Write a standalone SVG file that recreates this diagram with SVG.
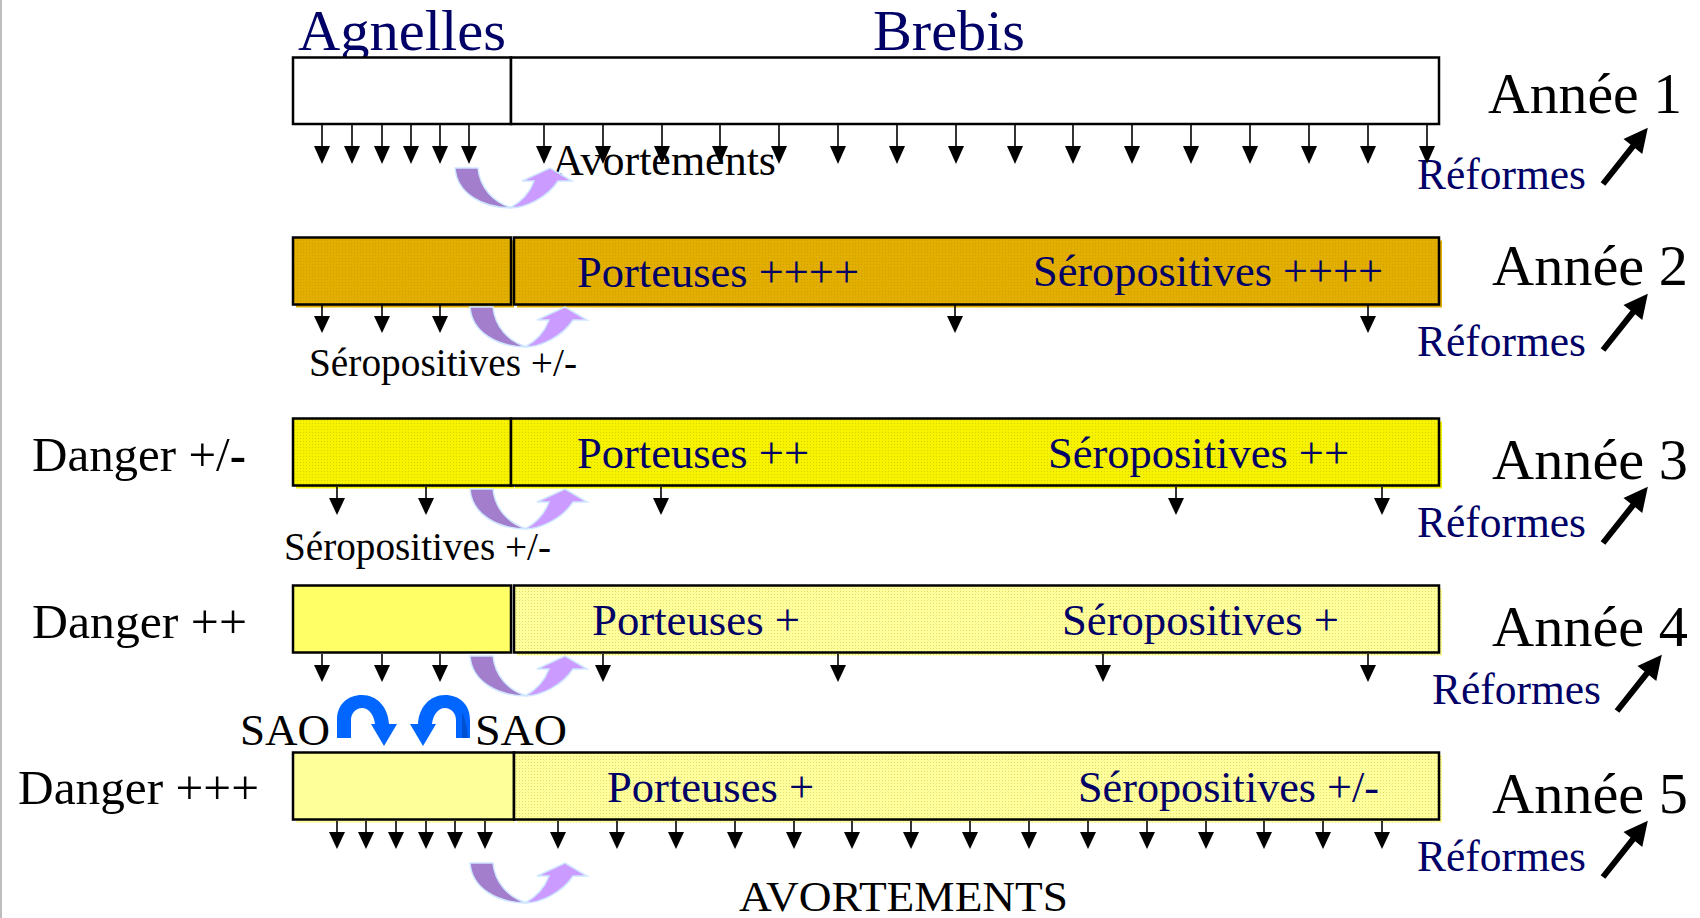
<svg xmlns="http://www.w3.org/2000/svg" xmlns:xlink="http://www.w3.org/1999/xlink" width="1700" height="918" viewBox="0 0 1700 918">
<style>
  text { font-family: "Liberation Serif", "Times New Roman", serif; }
  .navy { fill: #000066; }
  .blk { fill: #000000; }
  .box { stroke: #000; stroke-width: 2.5; }
  .dl { stroke: #000; stroke-width: 1.6; }
  .purpleD { fill: #A27ECC; stroke: #CFE6FF; stroke-width: 1.5; }
  .purpleL { fill: #CC9BFF; stroke: #CFE6FF; stroke-width: 1.5; }
  .blue { fill: #0066FF; }
</style>
<defs>
  <pattern id="pGold" width="3" height="3" patternUnits="userSpaceOnUse">
    <rect width="3" height="3" fill="#E2AE00"/>
    <rect width="1" height="1" fill="#CFA000"/>
  </pattern>
  <pattern id="pYel" width="3" height="3" patternUnits="userSpaceOnUse">
    <rect width="3" height="3" fill="#F6F200"/>
    <rect width="1" height="1" fill="#DAD400"/>
  </pattern>
  <pattern id="pPale" width="3" height="3" patternUnits="userSpaceOnUse">
    <rect width="3" height="3" fill="#FFFF9C"/>
    <rect width="1" height="1" fill="#E2DC70"/>
  </pattern>
  <g id="dn1">
    <line class="dl" x1="0" y1="1" x2="0" y2="23"/>
    <path d="M-8,22 L8,22 L0,40 Z" fill="#000"/>
  </g>
  <g id="dn">
    <line class="dl" x1="0" y1="1" x2="0" y2="13"/>
    <path d="M-8,12 L8,12 L0,29 Z" fill="#000"/>
  </g>
  <g id="diag">
    <path d="M0,-3 L48,-3 L48,-12 L72,0 L48,12 L48,3 L0,3 Z" fill="#000"/>
  </g>
  <g id="uturn">
    <path class="purpleD" d="M0,0 L23,0 C25,20 38,34 57,40 C28,40 2,26 0,0 Z"/>
    <path class="purpleL" d="M55,40 C70,40 92,30 103,13 L117,13 L95,0 L67,13 L79,13 C75,24 66,34 55,40 Z"/>
  </g>
  <path id="sao" d="M337,738 L337,720 C337,704 348,695 362,695 C377,695 388,707 389,724 L397,724 L384,746 L371,724 L375,724 C374,715 369,708 362,708 C356,708 351,713 351,720 L351,738 Z"/>
</defs>

<rect x="0" y="0" width="1700" height="918" fill="#FFFFFF"/>
<line x1="1" y1="0" x2="1" y2="918" stroke="#BDBDBD" stroke-width="2"/>

<!-- Headers -->
<g id="headers">
  <text class="navy" x="298" y="50" font-size="58" textLength="208" lengthAdjust="spacingAndGlyphs">Agnelles</text>
  <text class="navy" x="873" y="50" font-size="58" textLength="152" lengthAdjust="spacingAndGlyphs">Brebis</text>
</g>

<!-- Year 1 -->
<g id="year1">
  <rect class="box" x="293" y="57.5" width="218" height="66.5" fill="#FFFFFF" stroke-width="2"/>
  <rect class="box" x="511" y="57.5" width="928" height="66.5" fill="#FFFFFF" stroke-width="2"/>
  <text class="blk" x="1488" y="113" font-size="58" textLength="194" lengthAdjust="spacingAndGlyphs">Année 1</text>
  <text class="navy" x="1417" y="189" font-size="44" textLength="169" lengthAdjust="spacingAndGlyphs">Réformes</text>
  <text class="blk" x="552" y="175" font-size="44" textLength="224" lengthAdjust="spacingAndGlyphs">Avortements</text>
</g>

<!-- Year 2 -->
<g id="year2">
  <rect x="296" y="240.5" width="218" height="67" fill="url(#pGold)"/>
  <rect x="517" y="240.5" width="925" height="67" fill="url(#pGold)"/>
  <rect class="box" x="293" y="237.5" width="218" height="67" fill="url(#pGold)"/>
  <rect class="box" x="514" y="237.5" width="925" height="67" fill="url(#pGold)"/>
  <text class="navy" x="577" y="287" font-size="44" textLength="282" lengthAdjust="spacingAndGlyphs">Porteuses ++++</text>
  <text class="navy" x="1033" y="286" font-size="44" textLength="350" lengthAdjust="spacingAndGlyphs">Séropositives ++++</text>
  <text class="blk" x="1492" y="285" font-size="58" textLength="196" lengthAdjust="spacingAndGlyphs">Année 2</text>
  <text class="navy" x="1417" y="356" font-size="44" textLength="169" lengthAdjust="spacingAndGlyphs">Réformes</text>
  <text class="blk" x="309" y="376" font-size="39" textLength="268" lengthAdjust="spacingAndGlyphs">Séropositives +/-</text>
</g>

<!-- Year 3 -->
<g id="year3">
  <rect x="296" y="421.5" width="218" height="67" fill="url(#pYel)"/>
  <rect x="515" y="421.5" width="927" height="67" fill="url(#pYel)"/>
  <rect class="box" x="293" y="418.5" width="218" height="67" fill="url(#pYel)"/>
  <rect class="box" x="511" y="418.5" width="928" height="67" fill="url(#pYel)"/>
  <text class="navy" x="577" y="468" font-size="44" textLength="232" lengthAdjust="spacingAndGlyphs">Porteuses ++</text>
  <text class="navy" x="1048" y="468" font-size="44" textLength="301" lengthAdjust="spacingAndGlyphs">Séropositives ++</text>
  <text class="blk" x="1492" y="479" font-size="58" textLength="196" lengthAdjust="spacingAndGlyphs">Année 3</text>
  <text class="navy" x="1417" y="537" font-size="44" textLength="169" lengthAdjust="spacingAndGlyphs">Réformes</text>
  <text class="blk" x="32" y="471" font-size="49" textLength="214" lengthAdjust="spacingAndGlyphs">Danger +/<tspan font-weight="bold">-</tspan></text>
  <text class="blk" x="284" y="560" font-size="39" textLength="267" lengthAdjust="spacingAndGlyphs">Séropositives +/-</text>
</g>

<!-- Year 4 -->
<g id="year4">
  <rect x="517" y="588.5" width="925" height="67" fill="url(#pPale)"/>
  <rect class="box" x="293" y="585.5" width="218" height="67" fill="#FFFF66"/>
  <rect class="box" x="514" y="585.5" width="925" height="67" fill="url(#pPale)"/>
  <text class="navy" x="592" y="635" font-size="44" textLength="208" lengthAdjust="spacingAndGlyphs">Porteuses +</text>
  <text class="navy" x="1062" y="635" font-size="44" textLength="277" lengthAdjust="spacingAndGlyphs">Séropositives +</text>
  <text class="blk" x="1492" y="646" font-size="58" textLength="196" lengthAdjust="spacingAndGlyphs">Année 4</text>
  <text class="navy" x="1432" y="704" font-size="44" textLength="169" lengthAdjust="spacingAndGlyphs">Réformes</text>
  <text class="blk" x="32" y="638" font-size="49" textLength="215" lengthAdjust="spacingAndGlyphs">Danger ++</text>
</g>

<!-- SAO -->
<g id="sao-left">
  <use xlink:href="#sao" href="#sao" class="blue"/>
  <text class="blk" x="240" y="745" font-size="44" textLength="90" lengthAdjust="spacingAndGlyphs">SAO</text>
</g>
<g id="sao-right">
  <use xlink:href="#sao" href="#sao" class="blue" transform="translate(807,0) scale(-1,1)"/>
  <path d="M462,712 C465,718 467,726 468,738 L462,738 Z" fill="#0050D2"/>
  <text class="blk" x="475" y="745" font-size="44" textLength="92" lengthAdjust="spacingAndGlyphs">SAO</text>
</g>

<!-- Year 5 -->
<g id="year5">
  <rect x="296" y="755.5" width="218" height="67" fill="url(#pPale)"/>
  <rect x="517" y="755.5" width="925" height="67" fill="url(#pPale)"/>
  <rect class="box" x="293" y="752.5" width="221" height="67" fill="#FFFF99"/>
  <rect class="box" x="514" y="752.5" width="925" height="67" fill="url(#pPale)"/>
  <text class="navy" x="607" y="802" font-size="44" textLength="207" lengthAdjust="spacingAndGlyphs">Porteuses +</text>
  <text class="navy" x="1078" y="802" font-size="44" textLength="301" lengthAdjust="spacingAndGlyphs">Séropositives +/-</text>
  <text class="blk" x="1492" y="813" font-size="58" textLength="196" lengthAdjust="spacingAndGlyphs">Année 5</text>
  <text class="navy" x="1417" y="871" font-size="44" textLength="169" lengthAdjust="spacingAndGlyphs">Réformes</text>
  <text class="blk" x="18" y="804" font-size="49" textLength="241" lengthAdjust="spacingAndGlyphs">Danger +++</text>
  <text class="blk" x="739" y="911" font-size="42" textLength="329" lengthAdjust="spacingAndGlyphs">AVORTEMENTS</text>
</g>

<!-- Connectors -->
<g id="connectors">
  <!-- Row 1 -->
  <use href="#dn1" xlink:href="#dn1" x="322" y="124"/>
  <use href="#dn1" xlink:href="#dn1" x="352" y="124"/>
  <use href="#dn1" xlink:href="#dn1" x="382" y="124"/>
  <use href="#dn1" xlink:href="#dn1" x="411" y="124"/>
  <use href="#dn1" xlink:href="#dn1" x="440" y="124"/>
  <use href="#dn1" xlink:href="#dn1" x="469" y="124"/>
  <use href="#dn1" xlink:href="#dn1" x="544" y="124"/>
  <use href="#dn1" xlink:href="#dn1" x="603" y="124"/>
  <use href="#dn1" xlink:href="#dn1" x="662" y="124"/>
  <use href="#dn1" xlink:href="#dn1" x="720" y="124"/>
  <use href="#dn1" xlink:href="#dn1" x="779" y="124"/>
  <use href="#dn1" xlink:href="#dn1" x="838" y="124"/>
  <use href="#dn1" xlink:href="#dn1" x="897" y="124"/>
  <use href="#dn1" xlink:href="#dn1" x="956" y="124"/>
  <use href="#dn1" xlink:href="#dn1" x="1015" y="124"/>
  <use href="#dn1" xlink:href="#dn1" x="1073" y="124"/>
  <use href="#dn1" xlink:href="#dn1" x="1132" y="124"/>
  <use href="#dn1" xlink:href="#dn1" x="1191" y="124"/>
  <use href="#dn1" xlink:href="#dn1" x="1250" y="124"/>
  <use href="#dn1" xlink:href="#dn1" x="1309" y="124"/>
  <use href="#dn1" xlink:href="#dn1" x="1368" y="124"/>
  <use href="#dn1" xlink:href="#dn1" x="1427" y="124"/>
  <!-- Row 2 -->
  <use href="#dn" xlink:href="#dn" x="322" y="304"/>
  <use href="#dn" xlink:href="#dn" x="382" y="304"/>
  <use href="#dn" xlink:href="#dn" x="440" y="304"/>
  <use href="#dn" xlink:href="#dn" x="955" y="304"/>
  <use href="#dn" xlink:href="#dn" x="1368" y="304"/>
  <!-- Row 3 -->
  <use href="#dn" xlink:href="#dn" x="337" y="486"/>
  <use href="#dn" xlink:href="#dn" x="426" y="486"/>
  <use href="#dn" xlink:href="#dn" x="661" y="486"/>
  <use href="#dn" xlink:href="#dn" x="1176" y="486"/>
  <use href="#dn" xlink:href="#dn" x="1382" y="486"/>
  <!-- Row 4 -->
  <use href="#dn" xlink:href="#dn" x="322" y="653"/>
  <use href="#dn" xlink:href="#dn" x="382" y="653"/>
  <use href="#dn" xlink:href="#dn" x="440" y="653"/>
  <use href="#dn" xlink:href="#dn" x="603" y="653"/>
  <use href="#dn" xlink:href="#dn" x="838" y="653"/>
  <use href="#dn" xlink:href="#dn" x="1103" y="653"/>
  <use href="#dn" xlink:href="#dn" x="1368" y="653"/>
  <!-- Row 5 -->
  <use href="#dn" xlink:href="#dn" x="337" y="820"/>
  <use href="#dn" xlink:href="#dn" x="366" y="820"/>
  <use href="#dn" xlink:href="#dn" x="396" y="820"/>
  <use href="#dn" xlink:href="#dn" x="426" y="820"/>
  <use href="#dn" xlink:href="#dn" x="455" y="820"/>
  <use href="#dn" xlink:href="#dn" x="485" y="820"/>
  <use href="#dn" xlink:href="#dn" x="558" y="820"/>
  <use href="#dn" xlink:href="#dn" x="617" y="820"/>
  <use href="#dn" xlink:href="#dn" x="676" y="820"/>
  <use href="#dn" xlink:href="#dn" x="735" y="820"/>
  <use href="#dn" xlink:href="#dn" x="794" y="820"/>
  <use href="#dn" xlink:href="#dn" x="852" y="820"/>
  <use href="#dn" xlink:href="#dn" x="911" y="820"/>
  <use href="#dn" xlink:href="#dn" x="970" y="820"/>
  <use href="#dn" xlink:href="#dn" x="1029" y="820"/>
  <use href="#dn" xlink:href="#dn" x="1088" y="820"/>
  <use href="#dn" xlink:href="#dn" x="1147" y="820"/>
  <use href="#dn" xlink:href="#dn" x="1206" y="820"/>
  <use href="#dn" xlink:href="#dn" x="1264" y="820"/>
  <use href="#dn" xlink:href="#dn" x="1323" y="820"/>
  <use href="#dn" xlink:href="#dn" x="1382" y="820"/>
  <!-- U-turn arrows -->
  <use href="#uturn" xlink:href="#uturn" transform="translate(455,168)"/>
  <use href="#uturn" xlink:href="#uturn" transform="translate(470,307)"/>
  <use href="#uturn" xlink:href="#uturn" transform="translate(470,489)"/>
  <use href="#uturn" xlink:href="#uturn" transform="translate(470,656)"/>
  <use href="#uturn" xlink:href="#uturn" transform="translate(470,863)"/>
  <!-- Reformes diagonal arrows -->
  <use href="#diag" xlink:href="#diag" transform="translate(1603,184) rotate(-51.5)"/>
  <use href="#diag" xlink:href="#diag" transform="translate(1603,350) rotate(-51.5)"/>
  <use href="#diag" xlink:href="#diag" transform="translate(1603,543) rotate(-51.5)"/>
  <use href="#diag" xlink:href="#diag" transform="translate(1617,711) rotate(-51.5)"/>
  <use href="#diag" xlink:href="#diag" transform="translate(1603,877) rotate(-51.5)"/>
</g>
</svg>
